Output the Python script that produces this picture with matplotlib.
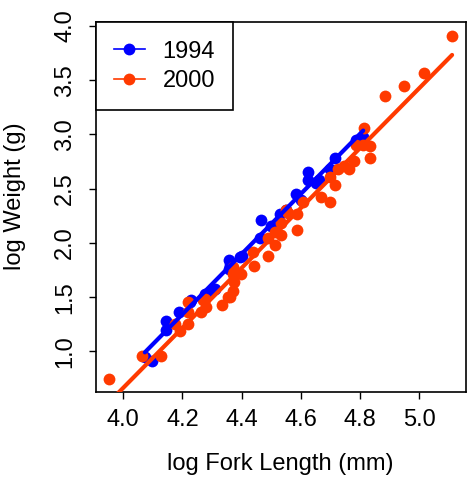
import numpy as np
import matplotlib
matplotlib.use("Agg")
import matplotlib.pyplot as plt
from matplotlib.lines import Line2D

plt.rcParams['font.family'] = ['Liberation Sans', 'DejaVu Sans']

# 1994 sample
x1994 = [4.073, 4.096, 4.144, 4.144, 4.189, 4.225, 4.230, 4.276, 4.300, 4.309,
         4.357, 4.357, 4.360, 4.394, 4.400, 4.461, 4.464, 4.500, 4.528, 4.550,
         4.582, 4.600, 4.624, 4.624, 4.652, 4.660, 4.697, 4.716, 4.787, 4.810]
y1994 = [0.95, 0.91, 1.285, 1.20, 1.36, 1.455, 1.47, 1.53, 1.56, 1.58,
         1.84, 1.76, 1.80, 1.87, 1.88, 2.05, 2.21, 2.16, 2.27, 2.30,
         2.45, 2.40, 2.65, 2.58, 2.55, 2.58, 2.68, 2.785, 2.95, 2.975]

# 2000 sample
x2000 = [3.952, 4.062, 4.126, 4.174, 4.191, 4.219, 4.219, 4.219, 4.264, 4.276,
         4.281, 4.270, 4.332, 4.354, 4.360, 4.369, 4.373, 4.371, 4.369, 4.396,
         4.438, 4.440, 4.487, 4.487, 4.512, 4.512, 4.532, 4.534, 4.551, 4.556,
         4.585, 4.585, 4.607, 4.669, 4.697, 4.697, 4.714, 4.725, 4.745, 4.762,
         4.780, 4.787, 4.810, 4.834, 4.834, 4.812, 4.882, 4.947, 5.015, 5.110]
y2000 = [0.75, 0.957, 0.957, 1.25, 1.19, 1.46, 1.36, 1.25, 1.36, 1.48,
         1.41, 1.47, 1.43, 1.50, 1.50, 1.56, 1.64, 1.71, 1.78, 1.71,
         1.92, 1.79, 1.88, 2.05, 1.98, 2.10, 2.07, 2.18, 2.30, 2.28,
         2.27, 2.115, 2.38, 2.42, 2.38, 2.61, 2.53, 2.68, 2.705, 2.68,
         2.76, 2.90, 2.90, 2.89, 2.785, 3.06, 3.357, 3.45, 3.565, 3.91]

years = ["1994", "2000"]
colors = ["#0000FF", "#FF3A00"]
xticks = [4.0, 4.2, 4.4, 4.6, 4.8, 5.0]
yticks = [1.0, 1.5, 2.0, 2.5, 3.0, 3.5, 4.0]

FS = 17

fig = plt.figure(figsize=(4.69, 4.84), dpi=100)
ax = fig.add_axes([0.204, 0.1895, 0.789, 0.7645])

handles = []
for xs, ys, c, lab in [(x1994, y1994, colors[0], years[0]), (x2000, y2000, colors[1], years[1])]:
    xs = np.array(xs); ys = np.array(ys)
    ax.plot(xs, ys, 'o', color=c, markersize=8.5, markeredgewidth=0, zorder=3)
    b, a = np.polyfit(xs, ys, 1)
    xl = np.array([xs.min(), xs.max()])
    ax.plot(xl, a + b * xl, '-', color=c, lw=3, solid_capstyle='round', zorder=4)
    handles.append(Line2D([], [], color=c, lw=1.2, marker='o', markersize=8.5,
                          markeredgewidth=0, label=lab))

ax.set_xlim(3.907, 5.156)
ax.set_ylim(0.624, 4.034)
ax.set_xticks(xticks)
ax.set_xticklabels([f"{v:.1f}" for v in xticks])
ax.set_yticks(yticks)
ax.set_yticklabels([f"{v:.1f}" for v in yticks], rotation=90, va='center')
ax.tick_params(axis='both', labelsize=FS, length=5, width=1, direction='out')
ax.tick_params(axis='x', pad=7)
ax.tick_params(axis='y', pad=9)
for s in ax.spines.values():
    s.set_linewidth(1.2)
ax.set_xlabel("log Fork Length (mm)", fontsize=FS, labelpad=16)
ax.set_ylabel("log Weight (g)", fontsize=FS)
ax.yaxis.set_label_coords(-0.188, 0.53)

leg = ax.legend(handles=handles, loc='upper left', borderaxespad=0, fancybox=False,
                edgecolor='black', framealpha=1, fontsize=FS, handlelength=1.3,
                handletextpad=0.75, borderpad=0.78, labelspacing=0.31)
leg.get_frame().set_linewidth(1.2)

fig.savefig("out.png", dpi=100)
